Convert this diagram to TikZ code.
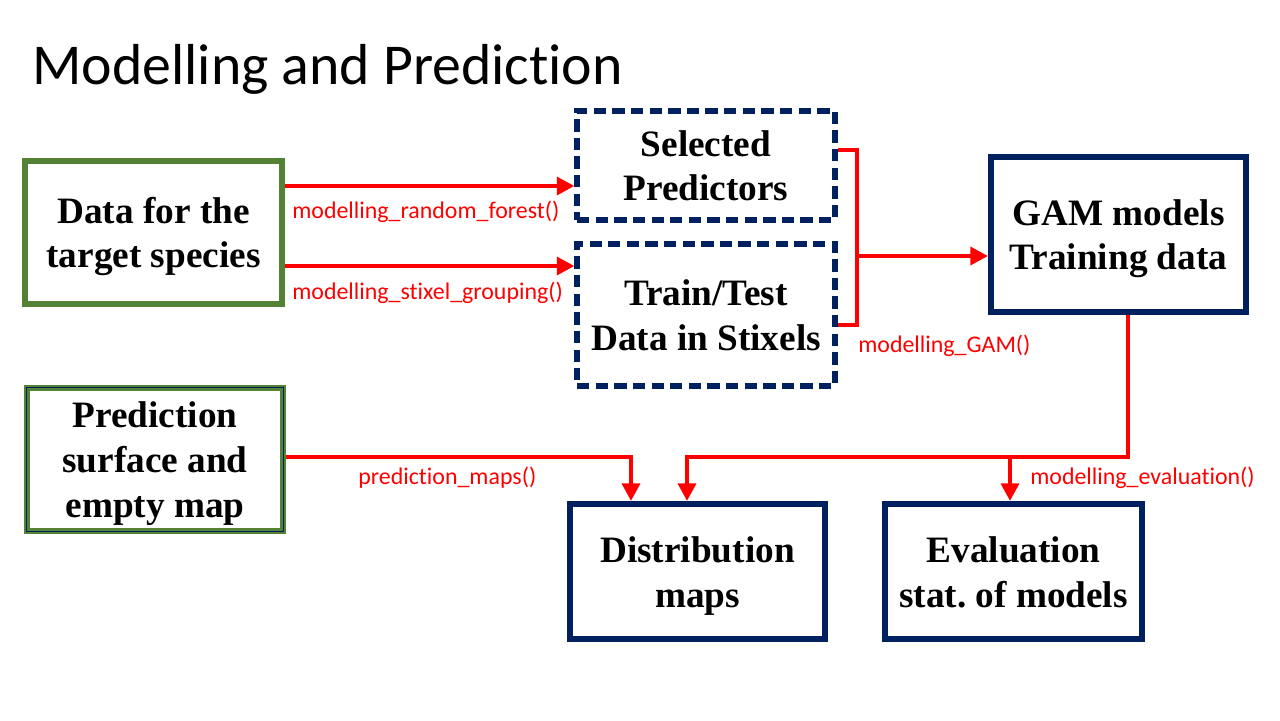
\documentclass[tikz,border=0pt]{standalone}
\usepackage{fontspec}
\setmainfont{Liberation Serif}
\newfontfamily\calfont[Ligatures=NoCommon]{Carlito}
\usetikzlibrary{arrows.meta}
\frenchspacing
\definecolor{boxgreen}{RGB}{84,130,53}
\definecolor{navy}{RGB}{0,32,96}
\definecolor{linered}{RGB}{255,0,0}
\newcommand\boxstrut{\rule[-5.4pt]{0pt}{25.6pt}}
\tikzset{
  boxtext/.style={align=center, font=\bfseries\fontsize{21.2}{25.6}\selectfont, text=black, inner sep=0pt},
  greenbox/.style={boxtext, draw=boxgreen, line width=3.4pt},
  navybox/.style={boxtext, draw=navy, line width=3.4pt},
  dashbox/.style={boxtext, draw=navy, line width=2.9pt, dash pattern=on 7pt off 3.6pt},
  conn/.style={draw=linered, line width=2.8pt},
  arr/.style={-{Triangle[length=10pt,width=10pt]}},
  fname/.style={text=linered, font=\calfont\fontsize{13.6}{15}\selectfont, anchor=west, inner sep=0pt},
}
\begin{document}
\begin{tikzpicture}[x=0.02cm, y=-0.02cm]
\useasboundingbox (0,0) rectangle (1280,720);
\node[anchor=base west, inner sep=0pt, font=\calfont\fontsize{32.9}{40}\selectfont] (title) at (32,84) {Modelling and Prediction};

\node[greenbox, minimum width=257*0.02cm, minimum height=143*0.02cm] (data) at (153.5,232.5) {\boxstrut Data for the\\\boxstrut target species};
\node[dashbox, minimum width=258*0.02cm, minimum height=109*0.02cm] (sel) at (706,165.5) {\boxstrut Selected\\\boxstrut Predictors};
\node[dashbox, minimum width=258*0.02cm, minimum height=142*0.02cm] (train) at (706,315) {\boxstrut Train/Test\\\boxstrut Data in Stixels};
\node[navybox, minimum width=255*0.02cm, minimum height=155*0.02cm] (gam) at (1118.5,234.5) {\boxstrut GAM models\\\boxstrut Training data};
\node[greenbox, minimum width=256*0.02cm, minimum height=143*0.02cm] (pred) at (155,459.5) {\boxstrut Prediction\\\boxstrut surface and\\\boxstrut empty map};
\draw[navy, line width=0.5pt] ([xshift=1.3pt,yshift=1.3pt]pred.south west) rectangle ([xshift=-1.3pt,yshift=-1.3pt]pred.north east);
\node[navybox, minimum width=255*0.02cm, minimum height=135*0.02cm] (dist) at (697.5,571.5) {\boxstrut Distribution\\\boxstrut maps};
\node[navybox, minimum width=257*0.02cm, minimum height=135*0.02cm] (eval) at (1013.5,571.5) {\boxstrut Evaluation\\\boxstrut stat. of models};

% helper coordinates
\coordinate (ya) at (0,186);
\coordinate (yb) at (0,266);
\coordinate (yc1) at (0,150);
\coordinate (yc2) at (0,325);
\coordinate (xj) at (857,0);
\coordinate (yg) at (0,256);
\coordinate (xg) at (1128,0);
\coordinate (yh) at (0,457);
\coordinate (xd1) at (631,0);
\coordinate (xd2) at (687,0);
\coordinate (xe) at (1010,0);

\draw[conn,arr] (data.east |- ya) -- (sel.west |- ya);
\draw[conn,arr] (data.east |- yb) -- (train.west |- yb);
\draw[conn] (sel.east |- yc1) -- (xj |- yc1) -- (xj |- yc2) -- (train.east |- yc2);
\draw[conn,arr] (xj |- yg) -- (gam.west |- yg);
\draw[conn,arr] (gam.south -| xg) |- (xd2 |- yh) -- (dist.north -| xd2);
\draw[conn,arr] (xe |- yh) -- (eval.north -| xe);
\draw[conn,arr] (pred.east |- yh) -| (dist.north -| xd1);

\node[fname] (l1) at (292,212) {modelling\_random\_forest()};
\node[fname] (l2) at (292,293) {modelling\_stixel\_grouping()};
\node[fname] (l3) at (858,346) {modelling\_GAM()};
\node[fname] (l4) at (358,478) {prediction\_maps()};
\node[fname] (l5) at (1030,478) {modelling\_evaluation()};
\end{tikzpicture}
\end{document}
